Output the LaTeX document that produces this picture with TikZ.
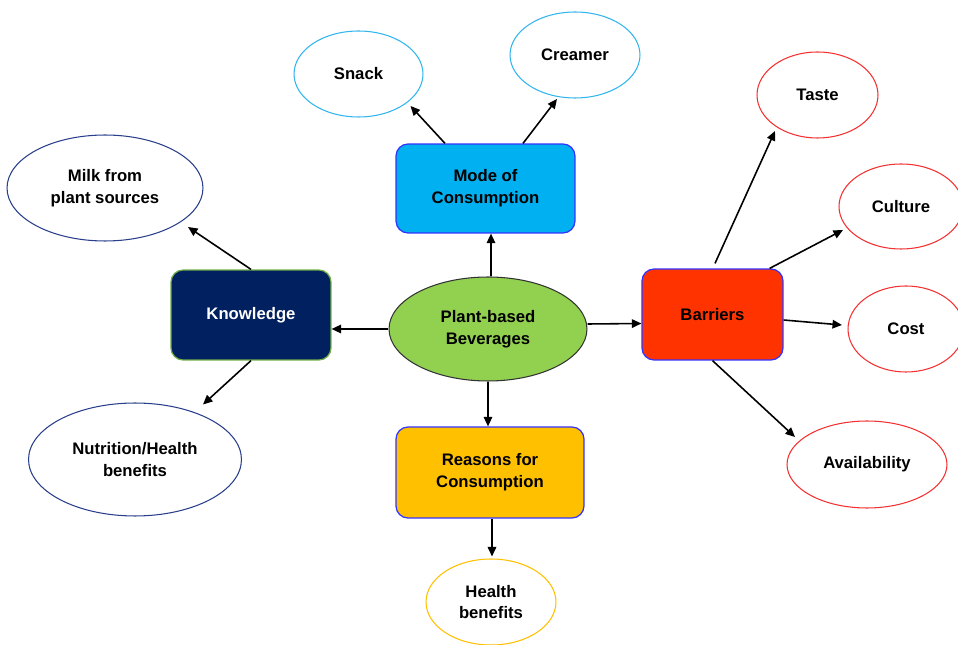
\documentclass[tikz,border=0pt]{standalone}
\usepackage{fontspec}
\setmainfont{Liberation Sans}
\usetikzlibrary{arrows.meta,shapes.geometric,calc}
\definecolor{cgreen}{HTML}{92D050}
\definecolor{ccyan}{HTML}{00B0F0}
\definecolor{cnavy}{HTML}{002060}
\definecolor{cred}{HTML}{FF3300}
\definecolor{cyellow}{HTML}{FFC000}
\definecolor{boxblue}{HTML}{3333FF}
\definecolor{kgreen}{HTML}{70AD47}
\definecolor{lblue}{HTML}{33B5EE}
\definecolor{ored}{HTML}{F43030}
\definecolor{onavy}{HTML}{2A3F8C}
\begin{document}
\begin{tikzpicture}[x=0.02cm,y=-0.02cm,
  txt/.style={font=\bfseries\fontsize{9.5}{12.4}\selectfont, align=center, inner sep=0pt},
  box/.style={txt, rectangle, rounded corners=0.24cm, draw=boxblue, line width=0.7pt},
  oval/.style={txt, ellipse, line width=0.6pt, fill=white},
  arr/.style={-{Triangle[length=0.19cm,width=0.17cm]}, line width=0.9pt}]
\useasboundingbox (0,0) rectangle (958,645);
\clip (0,0) rectangle (958,645);
% central ellipse
\node[txt, ellipse, fill=cgreen, draw=black!80, line width=0.6pt, minimum width=3.96cm, minimum height=2.08cm] (c) at (488,329) {Plant-based\\Beverages};
% boxes
\node[box, fill=ccyan, minimum width=3.58cm, minimum height=1.78cm] (mode) at (485.5,188.5) {Mode of\\Consumption};
\node[box, fill=cnavy, draw=kgreen, text=white, minimum width=3.2cm, minimum height=1.8cm] (know) at (251,315) {Knowledge};
\node[box, fill=cred, minimum width=2.82cm, minimum height=1.82cm] (bar) at (712.5,314.5) {Barriers};
\node[box, fill=cyellow, minimum width=3.76cm, minimum height=1.82cm] (rea) at (490,472.5) {Reasons for\\Consumption};
% ovals
\node[oval, draw=lblue, minimum width=2.58cm, minimum height=1.72cm] (snack) at (358.5,74) {Snack};
\node[oval, draw=lblue, minimum width=2.6cm, minimum height=1.72cm] (creamer) at (575,55) {Creamer};
\node[oval, draw=ored, minimum width=2.42cm, minimum height=1.72cm] (taste) at (817.5,95) {Taste};
\node[oval, draw=ored, minimum width=2.48cm, minimum height=1.7cm] (culture) at (901,206.5) {Culture};
\node[oval, draw=ored, minimum width=2.32cm, minimum height=1.72cm] (cost) at (906,329) {Cost};
\node[oval, draw=ored, minimum width=3.2cm, minimum height=1.74cm] (avail) at (867,464.5) {Availability};
\node[oval, draw=onavy, minimum width=3.92cm, minimum height=2.12cm] (milk) at (105,188) {Milk from\\plant sources};
\node[oval, draw=onavy, minimum width=4.26cm, minimum height=2.26cm] (nutr) at (135,459.5) {Nutrition/Health\\benefits};
\node[oval, draw=cyellow, minimum width=2.6cm, minimum height=1.72cm] (hb) at (491,602) {Health\\benefits};
% arrows from centre
\draw[arr] ($(c.north)+(3,0)$) -- ($(mode.south)+(5.5,0)$);
\draw[arr] (c.west) -- (c.west -| know.east);
\draw[arr] ($(c.east)+(0,-5)$) -- ($(bar.west)+(0,9)$);
\draw[arr] (c.south) -- (c.south |- rea.north);
% mode
\draw[arr] ($(mode.north)+(-40.5,0)$) -- ($(snack)+(52,32)$);
\draw[arr] ($(mode.north)+(37.5,0)$) -- ($(creamer)+(-18,44)$);
% knowledge
\draw[arr] (know.north) -- ($(milk)+(83,39)$);
\draw[arr] (know.south) -- ($(nutr)+(68,-55)$);
% barriers
\draw[arr] ($(bar.north)+(2.5,-5)$) -- ($(taste)+(-42.5,36)$);
\draw[arr] ($(bar.north east)+(-14,0)$) -- ($(culture)+(-58,23.5)$);
\draw[arr] ($(bar.east)+(0,5.5)$) -- ($(cost)+(-64,-4)$);
\draw[arr] (bar.south) -- ($(avail)+(-72,-27.5)$);
% reasons
\draw[arr] ($(rea.south)+(2,0)$) -- ($(hb.north)+(1,-2)$);
\end{tikzpicture}
\end{document}
